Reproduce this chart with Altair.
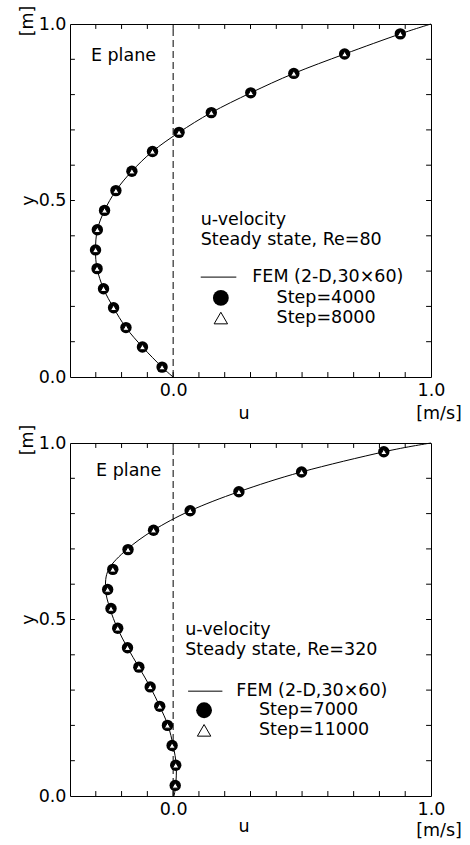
import altair as alt
import pandas as pd

FONT = "DejaVu Sans"
FS = 17.5

# ---------------- data: panel 1 (Re = 80) ----------------
y1 = [0.028, 0.085, 0.140, 0.196, 0.250, 0.307, 0.360, 0.417, 0.472,
      0.528, 0.583, 0.639, 0.693, 0.749, 0.805, 0.860, 0.915, 0.972]
u1_step4000 = [-0.043, -0.119, -0.183, -0.231, -0.270, -0.295, -0.301, -0.294, -0.266,
               -0.222, -0.160, -0.080, 0.023, 0.148, 0.301, 0.468, 0.665, 0.881]
u1_step8000 = [-0.043, -0.119, -0.183, -0.231, -0.270, -0.295, -0.301, -0.294, -0.266,
               -0.222, -0.160, -0.080, 0.023, 0.148, 0.301, 0.468, 0.665, 0.881]
fem1_y = [0.0, 0.028, 0.085, 0.140, 0.196, 0.250, 0.307, 0.360, 0.417, 0.472,
          0.528, 0.583, 0.639, 0.693, 0.749, 0.805, 0.860, 0.915, 0.972, 1.0]
fem1_u = [0.0, -0.043, -0.119, -0.183, -0.231, -0.270, -0.295, -0.301, -0.294, -0.266,
          -0.222, -0.160, -0.080, 0.023, 0.148, 0.301, 0.468, 0.665, 0.881, 1.0]

# ---------------- data: panel 2 (Re = 320) ----------------
y2 = [0.030, 0.087, 0.143, 0.200, 0.254, 0.309, 0.365, 0.420, 0.475,
      0.531, 0.585, 0.642, 0.698, 0.753, 0.808, 0.862, 0.918, 0.975]
u2_step7000 = [0.008, 0.010, -0.004, -0.022, -0.052, -0.089, -0.133, -0.177, -0.215,
               -0.241, -0.254, -0.234, -0.175, -0.076, 0.066, 0.255, 0.498, 0.817]
u2_step11000 = [0.008, 0.010, -0.004, -0.022, -0.052, -0.089, -0.133, -0.177, -0.215,
                -0.241, -0.254, -0.234, -0.175, -0.076, 0.066, 0.255, 0.498, 0.817]
fem2_y = [0.0, 0.030, 0.087, 0.143, 0.200, 0.254, 0.309, 0.365, 0.420, 0.475,
          0.531, 0.585, 0.642, 0.698, 0.753, 0.808, 0.862, 0.918, 0.975, 1.0]
fem2_u = [0.003, 0.010, 0.012, 0.000, -0.020, -0.052, -0.089, -0.133, -0.177, -0.216,
          -0.245, -0.262, -0.250, -0.180, -0.076, 0.066, 0.255, 0.498, 0.817, 1.0]

# tick positions and labels
x_minor = [-0.3, -0.2, -0.1, 0.0, 0.1, 0.2, 0.3, 0.4, 0.5, 0.6, 0.7, 0.8, 0.9]
y_minor = [0.1, 0.2, 0.3, 0.4, 0.5, 0.6, 0.7, 0.8, 0.9]
x_labels = [0.0, 1.0]
y_labels = [0.0, 0.5, 1.0]

XS = alt.Scale(domain=[-0.4, 1.0], nice=False, zero=False)
YS = alt.Scale(domain=[0.0, 1.0], nice=False, zero=False)
AX = alt.Axis(values=x_labels, format=".1f", title=None, ticks=False, domain=False, grid=False,
              labelFont=FONT, labelFontSize=FS, labelColor="black", labelPadding=4, labelFlush=False)
AY = alt.Axis(values=y_labels, format=".1f", title=None, ticks=False, domain=False, grid=False,
              labelFont=FONT, labelFontSize=FS, labelColor="black", labelPadding=4, labelFlush=False)

W, H = 361, 353


def one():
    return alt.Data(values=[{"a": 1}])


def XD(v):
    return alt.XDatum(v, scale=XS, axis=AX, title=None)


def YD(v):
    return alt.YDatum(v, scale=YS, axis=AY, title=None)


def XF(f):
    return alt.X(f, scale=XS, axis=AX, title=None)


def YF(f):
    return alt.Y(f, scale=YS, axis=AY, title=None)


def txt(text, u, y, align="left", angle=0, xo=0, yo=0):
    return alt.Chart(one()).mark_text(
        text=text, align=align, baseline="middle", font=FONT, fontSize=FS,
        angle=angle, xOffset=xo, yOffset=yo, color="black"
    ).encode(x=XD(u), y=YD(y))


def panel(fem_u, fem_y, y_pts, u_circ, u_tri, leg):
    fem = pd.DataFrame({"u": fem_u, "y": fem_y, "i": list(range(len(fem_u)))})
    pts = pd.DataFrame({"y": y_pts, "uc": u_circ, "ut": u_tri})
    xt = pd.DataFrame({"t": x_minor})
    yt = pd.DataFrame({"t": y_minor})

    line = alt.Chart(fem).mark_line(color="black", strokeWidth=1, interpolate="cardinal").encode(
        x=XF("u:Q"), y=YF("y:Q"), order="i:Q")
    dash = alt.Chart(one()).mark_rule(color="black", strokeWidth=1, strokeDash=[7, 4]).encode(
        x=XD(0.0), y=YD(0.0), y2=alt.Y2Datum(1.0))
    circ = alt.Chart(pts).mark_point(shape="circle", filled=True, color="black", size=130, opacity=1).encode(
        x=XF("uc:Q"), y=YF("y:Q"))
    tri = alt.Chart(pts).mark_point(shape="triangle-up", filled=True, fill="white", stroke="black",
                                    strokeWidth=1, size=40, opacity=1).encode(
        x=XF("ut:Q"), y=YF("y:Q"))

    tb = alt.Chart(xt).mark_rule(color="black", strokeWidth=1).encode(
        x=XF("t:Q"), y=YD(0.0), y2=alt.Y2Datum(0.014))
    tt = alt.Chart(xt).mark_rule(color="black", strokeWidth=1).encode(
        x=XF("t:Q"), y=YD(1.0), y2=alt.Y2Datum(0.986))
    tl = alt.Chart(yt).mark_rule(color="black", strokeWidth=1).encode(
        y=YF("t:Q"), x=XD(-0.4), x2=alt.X2Datum(-0.381))
    tr = alt.Chart(yt).mark_rule(color="black", strokeWidth=1).encode(
        y=YF("t:Q"), x=XD(1.0), x2=alt.X2Datum(0.981))

    # legend sample marks
    leg_line = alt.Chart(one()).mark_rule(color="black", strokeWidth=1).encode(
        x=XD(leg["lx0"]), x2=alt.X2Datum(leg["lx1"]), y=YD(leg["ly"]))
    leg_c = alt.Chart(one()).mark_point(shape="circle", filled=True, color="black", size=250, opacity=1).encode(
        x=XD(leg["sx"]), y=YD(leg["cy"]))
    leg_t = alt.Chart(one()).mark_point(shape="triangle-up", filled=False, color="black", strokeWidth=1,
                                        size=180, opacity=1).encode(
        x=XD(leg["sx"]), y=YD(leg["ty"]))

    texts = [
        txt("E plane", leg["ex"], leg["ey"]),
        txt("u-velocity", leg["tx"], leg["t1y"]),
        txt(leg["re"], leg["tx"], leg["t2y"]),
        txt("FEM  (2-D,30×60)", leg["fx"], leg["ly"]),
        txt(leg["sa"], leg["stx"], leg["cy"]),
        txt(leg["sb"], leg["stx"], leg["ty"]),
        txt("y", -0.4, 0.5, align="center", angle=270, xo=-41),
        txt("[m]", -0.4, 1.0, align="center", angle=270, xo=-42, yo=-3),
        txt("u", 0.275, 0.0, align="center", yo=leg["udy"]),
        txt("[m/s]", 1.0, 0.0, align="center", xo=8, yo=leg["mdy"]),
    ]

    return alt.layer(line, dash, tb, tt, tl, tr, circ, tri, leg_line, leg_c, leg_t, *texts).properties(
        width=W, height=H)


leg1 = dict(ex=-0.319, ey=0.910, tx=0.107, t1y=0.446, t2y=0.389, re="Steady state, Re=80",
            lx0=0.107, lx1=0.245, ly=0.283, fx=0.307, sx=0.185, cy=0.224, ty=0.167,
            stx=0.401, sa="Step=4000", sb="Step=8000", udy=37, mdy=37)
leg2 = dict(ex=-0.299, ey=0.920, tx=0.047, t1y=0.470, t2y=0.414, re="Steady state, Re=320",
            lx0=0.058, lx1=0.191, ly=0.297, fx=0.245, sx=0.120, cy=0.243, ty=0.186,
            stx=0.333, sa="Step=7000", sb="Step=11000", udy=31, mdy=35)

p1 = panel(fem1_u, fem1_y, y1, u1_step4000, u1_step8000, leg1)
p2 = panel(fem2_u, fem2_y, y2, u2_step7000, u2_step11000, leg2)

chart = alt.vconcat(p1, p2, spacing=66, bounds="flush").properties(
    padding={"left": 18, "top": 5, "right": 0, "bottom": 0},
    background="white",
).configure_view(stroke="black", strokeWidth=1)

chart.save("out.html", embed_options={"renderer": "svg", "actions": False})
